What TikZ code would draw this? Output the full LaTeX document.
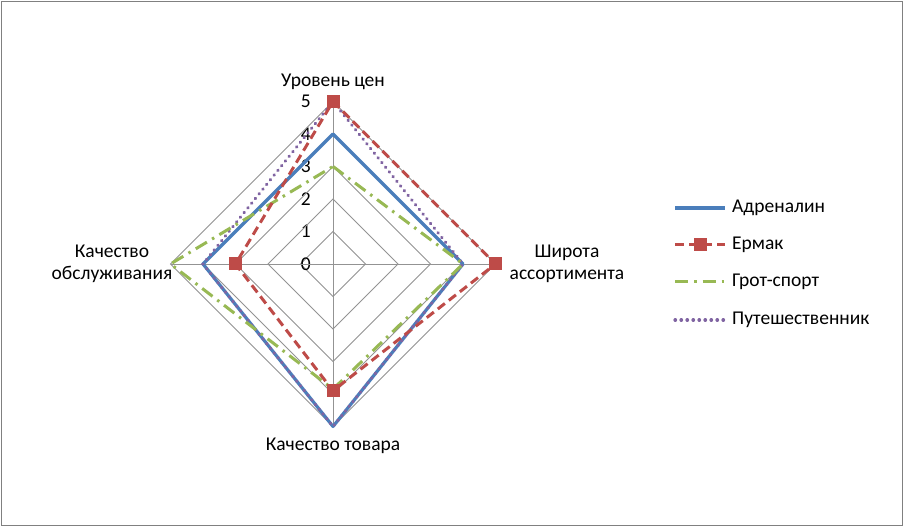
\documentclass[tikz,border=0pt]{standalone}
\usepackage{fontspec}
\setmainfont{Carlito}
\begin{document}
\begin{tikzpicture}[x=1pt,y=-1pt,
  grid/.style={gray!85,line width=0.8pt},
  lbl/.style={font=\fontsize{19.5}{22}\selectfont,inner sep=1pt},
  sA/.style={color={rgb,255:red,74;green,126;blue,187},line width=3.2pt,line join=round},
  sB/.style={color={rgb,255:red,190;green,75;blue,72},line width=3pt,dash pattern=on 9pt off 5pt},
  sC/.style={color={rgb,255:red,152;green,185;blue,84},line width=3pt,dash pattern=on 13pt off 6pt on 2.5pt off 6pt},
  sD/.style={color={rgb,255:red,128;green,100;blue,162},line width=3.2pt,dash pattern=on 0.5pt off 5.5pt,line cap=round},
  mk/.style={fill={rgb,255:red,190;green,75;blue,72},minimum size=13pt,inner sep=0pt}]
\draw[gray,line width=0.8pt,fill=white] (1,1) rectangle (902,525);
\useasboundingbox (0,0) rectangle (903,526);
\def\cx{333}\def\cy{264}\def\r{32.5}
\coordinate (c) at (\cx,\cy);
\foreach \k in {1,...,5}{
  \draw[grid] (\cx,\cy-\k*\r) -- (\cx+\k*\r,\cy) -- (\cx,\cy+\k*\r) -- (\cx-\k*\r,\cy) -- cycle;
  \node[lbl,anchor=east] at (\cx-21,\cy-\k*\r) {\k};
}
\node[lbl,anchor=east] at (\cx-21,\cy) {0};
\draw[grid] (\cx,\cy-5*\r) -- (\cx,\cy+5*\r);
\draw[grid] (\cx-5*\r,\cy) -- (\cx+5*\r,\cy);
\node[lbl] (t) at (333,82) {Уровень цен};
\node[lbl,align=center] (r) at (567,264) {Широта\\ассортимента};
\node[lbl] (b) at (333,446) {Качество товара};
\node[lbl,align=center] (l) at (112,264) {Качество\\обслуживания};
\newcommand\ser[5]{\draw[#1] (\cx,\cy-#2*\r) -- (\cx+#3*\r,\cy) -- (\cx,\cy+#4*\r) -- (\cx-#5*\r,\cy) -- cycle;}
\ser{sA}{4}{4}{5}{4}
\ser{sD}{5}{4}{5}{4}
\ser{sC}{3}{4}{3.85}{5}
\ser{sB}{5}{5}{3.9}{3}
\foreach \p in {(\cx,\cy-5*\r),(\cx+5*\r,\cy),(\cx,\cy+3.9*\r),(\cx-3*\r,\cy)} \node[mk] at \p {};
\foreach \s/\t/\y [count=\i] in {sA/Адреналин/208,sB/Ермак/245,sC/Грот-спорт/282,sD/Путешественник/320}{
  \coordinate (la\i) at (675,\y); \coordinate (lb\i) at (725,\y);
  \draw[\s] (la\i) -- (lb\i);
  \node[lbl,anchor=west] (lt\i) at (731,\y) {\t};
}
\node[mk] at (700,245) {};
\end{tikzpicture}
\end{document}
